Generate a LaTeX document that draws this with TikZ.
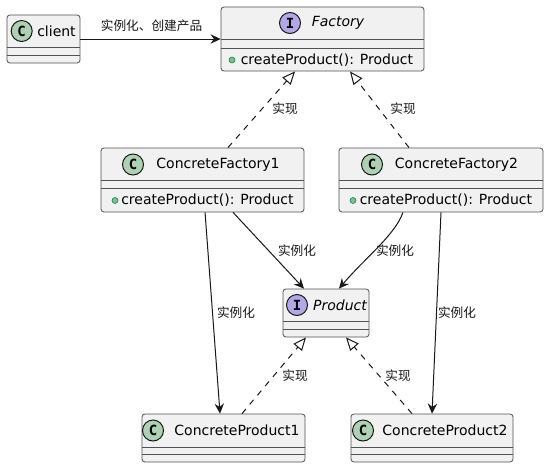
\documentclass[tikz,border=0pt]{standalone}
\usepackage{fontspec}
\setmainfont{DejaVu Sans}
\newfontfamily\cjk{Noto Sans CJK SC}
\newfontfamily\monob{DejaVu Sans Mono}
\usetikzlibrary{arrows.meta,fit}
\definecolor{boxfill}{HTML}{F1F1F1}
\definecolor{boxline}{HTML}{181818}
\definecolor{cgreen}{HTML}{ADD1B2}
\definecolor{ipurple}{HTML}{B4A7E5}
\definecolor{dotfill}{HTML}{84BE84}
\definecolor{dotline}{HTML}{038048}
\begin{document}
\begin{tikzpicture}[x=0.75pt,y=-0.75pt,
 clsbox/.style={draw=boxline!75, fill=boxfill, line width=0.6pt, rounded corners=2.2pt, inner sep=0pt},
 sepline/.style={draw=boxline!75, line width=0.6pt},
 cname/.style={font=\fontsize{10.5}{12}\selectfont, inner sep=0pt},
 iname/.style={font=\fontsize{10.5}{12}\selectfont\itshape, inner sep=0pt},
 member/.style={font=\fontsize{10.5}{12}\selectfont, inner sep=0pt, anchor=west},
 spot/.style={circle, draw=boxline, line width=0.75pt, minimum size=15.75pt, inner sep=0pt, font=\monob\bfseries\fontsize{10.5}{12}\selectfont},
 pubdot/.style={circle, fill=dotfill, draw=dotline, line width=0.4pt, minimum size=4.5pt, inner sep=0pt},
 arr/.style={draw=boxline, line width=0.75pt, -{Stealth[length=7.5pt, width=7pt, inset=2.5pt]}},
 real/.style={draw=boxline, line width=0.75pt, dash pattern=on 4.5pt off 4.5pt, -{Triangle[open, fill=white, length=9.75pt, width=8.25pt]}},
 lbl/.style={font=\cjk\fontsize{9.5}{11}\selectfont, inner sep=0pt, text=boxline},
]
\useasboundingbox[fill=white] (0,0) rectangle (549,468);

% client
\node[clsbox, fit={(7,15)(80,63)}] (client) {};
\draw[sepline] (7,47) -- (80,47);
\draw[sepline] (7,55) -- (80,55);
\node[spot, fill=cgreen] (clientC) at (21.7,31) {C};
\node[cname] (clientN) at (56.5,31) {client};

% Factory
\node[clsbox, fit={(221,7)(424,71)}] (factory) {};
\draw[sepline] (221,39) -- (424,39);
\draw[sepline] (221,48) -- (424,48);
\node[spot, fill=ipurple] (factoryI) at (290,23) {I};
\node[iname] (factoryN) at (338,23) {Factory};
\node[pubdot] (factoryD) at (232,60) {};
\node[member] (factoryM) at (240.5,60) {createProduct(): Product};

% ConcreteFactory1
\node[clsbox, fit={(101,148)(304,212)}] (cf1) {};
\draw[sepline] (101,180) -- (304,180);
\draw[sepline] (101,188) -- (304,188);
\node[spot, fill=cgreen] (cf1C) at (133,164.5) {C};
\node[cname] (cf1N) at (218,164.5) {ConcreteFactory1};
\node[pubdot] (cf1D) at (115,200.5) {};
\node[member] (cf1M) at (121,200.5) {createProduct(): Product};

% ConcreteFactory2
\node[clsbox, fit={(339,148)(543,212)}] (cf2) {};
\draw[sepline] (339,180) -- (543,180);
\draw[sepline] (339,188) -- (543,188);
\node[spot, fill=cgreen] (cf2C) at (372,164.5) {C};
\node[cname] (cf2N) at (456.5,164.5) {ConcreteFactory2};
\node[pubdot] (cf2D) at (353,200.5) {};
\node[member] (cf2M) at (359.5,200.5) {createProduct(): Product};

% Product
\node[clsbox, fit={(283,289)(369,337)}] (product) {};
\draw[sepline] (283,321) -- (369,321);
\draw[sepline] (283,329) -- (369,329);
\node[spot, fill=ipurple] (productI) at (297,305) {I};
\node[iname] (productN) at (340,305) {Product};

% ConcreteProduct1
\node[clsbox, fit={(142,414)(305,462)}] (cp1) {};
\draw[sepline] (142,447) -- (305,447);
\draw[sepline] (142,454) -- (305,454);
\node[spot, fill=cgreen] (cp1C) at (153,430.5) {C};
\node[cname] (cp1N) at (237,430.5) {ConcreteProduct1};

% ConcreteProduct2
\node[clsbox, fit={(351,414)(513,462)}] (cp2) {};
\draw[sepline] (351,447) -- (513,447);
\draw[sepline] (351,454) -- (513,454);
\node[spot, fill=cgreen] (cp2C) at (363,430.5) {C};
\node[cname] (cp2N) at (445,430.5) {ConcreteProduct2};

% connectors
\draw[arr] (client.east) -- (factory.west);
\draw[real] ([xshift=19.1pt]cf1.north) -- ([xshift=-20.6pt]factory.south);
\draw[real] ([xshift=-24pt]cf2.north) -- ([xshift=20.6pt]factory.south);
\draw[arr] ([xshift=22.9pt]cf1.south) -- ([xshift=-16.5pt]product.north);
\draw[arr] ([xshift=-28.5pt]cf2.south) .. controls (395,235) and (365,258) .. ([xshift=9.75pt]product.north);
\draw[arr] ([xshift=1.9pt]cf1.south) -- ([xshift=-2.6pt]cp1.north);
\draw[arr] (cf2.south) -- (cp2.north);
\draw[real] ([xshift=13.9pt]cp1.north) -- ([xshift=-15pt]product.south);
\draw[real] ([xshift=-15pt]cp2.north) -- ([xshift=15pt]product.south);

% labels
\node[lbl] (l1) at (151.5,26) {实例化、创建产品};
\node[lbl] (l2) at (285,109) {实现};
\node[lbl] (l3) at (403,109) {实现};
\node[lbl] (l4) at (297,251) {实例化};
\node[lbl] (l5) at (395,251) {实例化};
\node[lbl] (l6) at (236,313) {实例化};
\node[lbl] (l7) at (457,313) {实例化};
\node[lbl] (l8) at (295,376) {实现};
\node[lbl] (l9) at (398,376) {实现};
\end{tikzpicture}
\end{document}
